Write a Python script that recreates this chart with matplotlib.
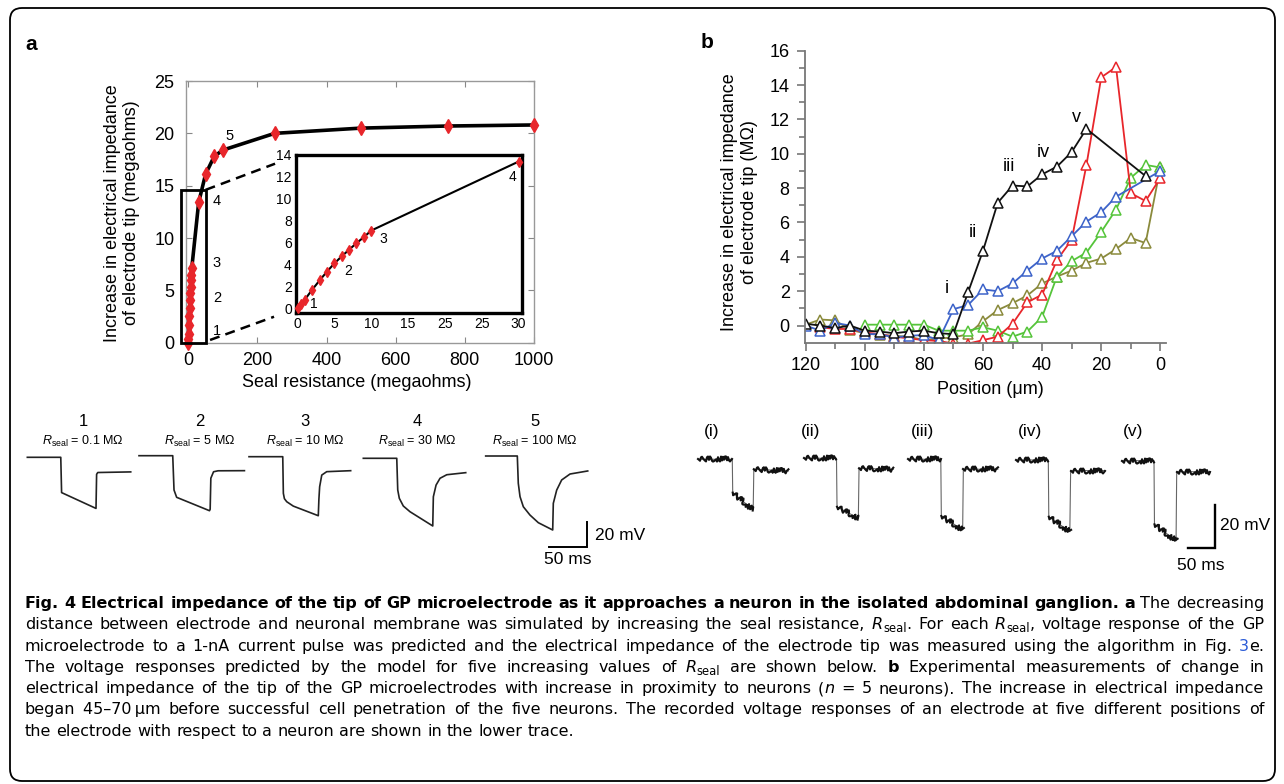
import matplotlib
matplotlib.use("Agg")
import matplotlib.pyplot as plt
import matplotlib.transforms as mtransforms
from matplotlib.patches import FancyBboxPatch, Rectangle
import numpy as np

plt.rcParams['font.family'] = ['Liberation Sans', 'DejaVu Sans']
plt.rcParams['mathtext.fontset'] = 'custom'
plt.rcParams['mathtext.rm'] = 'Liberation Sans'
plt.rcParams['mathtext.it'] = 'Liberation Sans:italic'

nan = np.nan

# ---- panel a: model, impedance increase vs seal resistance (megaohms)
seal_res = [0.1, 0.5, 1, 2, 3, 4, 5, 6, 7, 8, 9, 10, 30, 50, 75, 100, 250, 500, 750, 1000]
imp_increase = [0.0, 0.35, 0.8, 1.7, 2.55, 3.35, 4.1, 4.75, 5.35, 5.95, 6.5, 7.1,
                13.4, 16.1, 17.8, 18.4, 20.0, 20.5, 20.7, 20.8]
inset_ticks = [0, 5, 10, 15, 20, 25, 30]
inset_ticklabels = ['0', '5', '10', '15', '25', '25', '30']  # as printed in the figure

# ---- panel b: measured impedance increase (MOhm) vs position (um), 5 neurons
position = [120, 115, 110, 105, 100, 95, 90, 85, 80, 75, 70, 65, 60,
            55, 50, 45, 40, 35, 30, 25, 20, 15, 10, 5, 0]
imp_olive = [0.05, 0.35, 0.3, -0.25, -0.45, -0.55, -0.6, -0.65, -0.85, -0.75, -0.7, -0.5, 0.25,
             0.9, 1.3, 1.75, 2.45, 2.85, 3.2, 3.65, 3.9, 4.45, 5.1, 4.8, 9.2]
imp_green = [nan, nan, nan, nan, 0.05, 0.05, 0.05, 0.05, 0.05, -0.3, -0.3, -0.3, -0.1,
             -0.3, -0.65, -0.35, 0.5, 2.85, 3.75, 4.25, 5.45, 6.75, 8.6, 9.35, 9.2]
imp_red = [nan, -0.1, -0.2, -0.2, -0.4, -0.5, -0.65, -0.75, -0.85, -0.9, -1.05, -1.05, -0.85,
           -0.65, 0.1, 1.35, 1.8, 3.8, 5.0, 9.35, 14.45, 15.05, 7.7, 7.25, 8.6]
imp_blue = [0.0, -0.3, 0.15, 0.0, -0.5, -0.5, -0.7, -0.6, -0.55, -0.85, 0.95, 1.2, 2.1,
            2.0, 2.45, 3.2, 3.9, 4.35, 5.2, 6.05, 6.6, 7.5, nan, nan, 9.0]
imp_black = [0.1, 0.0, -0.15, 0.0, -0.3, -0.35, -0.45, -0.35, -0.3, -0.45, -0.5, 1.96, 4.35,
             7.15, 8.15, 8.1, 8.8, 9.25, 10.1, 11.45, nan, nan, nan, 8.7, nan]
roman_labels = ['i', 'ii', 'iii', 'iv', 'v']
roman_pos = [72.3, 63.3, 51.1, 39.6, 28.3]
roman_val = [2.15, 5.4, 9.24, 10.06, 12.1]

# ---- panel a lower: predicted voltage responses (ms, mV from baseline)
model_labels = ['1', '2', '3', '4', '5']
model_rseal = ['0.1', '5', '10', '30', '100']
model_t = [
    [0, 44.4, 45.5, 91.2, 92.0, 93.5, 137.3],
    [0, 44.8, 46.5, 50.0, 93.6, 94.5, 95.4, 99.0, 105.0, 140.0],
    [0, 44.8, 45.6, 47.0, 50.1, 58.8, 92.0, 92.8, 93.8, 96.6, 103.2, 135.0],
    [0, 44.4, 45.7, 47.8, 53.1, 62.0, 92.2, 93.0, 96.6, 101.9, 110.8, 136.0],
    [0, 42.0, 43.3, 45.6, 50.0, 58.8, 69.9, 89.0, 89.8, 94.3, 100.9, 112.0, 135.5],
]
model_v = [
    [0, 0, -29.0, -42.0, -14.0, -12.5, -12.0],
    [0, 0, -28.2, -34.2, -45.2, -44.0, -18.5, -13.2, -12.4, -12.3],
    [0, 0, -30.1, -34.5, -37.0, -40.6, -48.5, -35.0, -24.7, -15.1, -12.3, -11.5],
    [0, 0, -26.0, -32.9, -39.2, -43.9, -55.6, -31.6, -22.0, -16.4, -13.5, -11.8],
    [0, 0, -22.4, -33.4, -41.7, -48.5, -54.8, -60.8, -38.9, -28.0, -19.7, -14.8, -12.3],
]

# ---- panel b lower: recorded voltage responses (ms, mV from baseline)
rec_labels = ['(i)', '(ii)', '(iii)', '(iv)', '(v)']
rec_t = [
    [0, 63.8, 64.6, 103.0, 104.2, 169.0],
    [0, 61.0, 62.0, 102.0, 103.3, 167.5],
    [0, 61.0, 62.0, 102.0, 103.3, 168.0],
    [0, 60.6, 61.5, 101.0, 102.5, 167.0],
    [0, 60.6, 61.5, 102.0, 103.2, 166.0],
]
rec_v = [
    [0, 0, -15.4, -23.4, -4.6, -5.4],
    [0, 0, -22.4, -27.7, -4.6, -5.1],
    [0, 0, -26.2, -32.6, -4.6, -4.6],
    [0, 0, -26.2, -33.1, -4.9, -4.9],
    [0, 0, -29.4, -37.0, -5.1, -5.1],
]

caption_lines = [
    [("b", "Fig. 4 Electrical impedance of the tip of GP microelectrode as it approaches a neuron "
           "in the isolated abdominal ganglion. a"), ("n", " The decreasing")],
    [("n", "distance between electrode and neuronal membrane was simulated by increasing the seal resistance, "),
     ("i", "R"), ("s", "seal"), ("n", ". For each "), ("i", "R"), ("s", "seal"),
     ("n", ", voltage response of the GP")],
    [("n", "microelectrode to a 1-nA current pulse was predicted and the electrical impedance of the "
           "electrode tip was measured using the algorithm in Fig. "), ("u", "3"), ("n", "e.")],
    [("n", "The voltage responses predicted by the model for five increasing values of "),
     ("i", "R"), ("s", "seal"), ("n", " are shown below. "), ("b", "b"),
     ("n", " Experimental measurements of change in")],
    [("n", "electrical impedance of the tip of the GP microelectrodes with increase in proximity to neurons ("),
     ("i", "n"), ("n", " = 5 neurons). The increase in electrical impedance")],
    [("n", "began 45\u201370\u2009\u03bcm before successful cell penetration of the five neurons. "
           "The recorded voltage responses of an electrode at five different positions of")],
    [("n", "the electrode with respect to a neuron are shown in the lower trace.")],
]

# ------------------------------------------------------------------
W, H = 1284, 784
fig = plt.figure(figsize=(W / 100, H / 100), dpi=100)


def box(x0, y0, x1, y1):
    return [x0 / W, 1 - y1 / H, (x1 - x0) / W, (y1 - y0) / H]


def fx(px):
    return px / W


def fy(py):
    return 1 - py / H


RED = '#e8262b'

# outer frame
fig.add_artist(FancyBboxPatch((10, 3), 1265, 773, boxstyle='round,pad=0,rounding_size=12',
                              transform=mtransforms.IdentityTransform(),
                              fill=False, ec='black', lw=1.3))

fig.text(fx(25), fy(45), 'a', fontsize=15, weight='bold', va='center')
fig.text(fx(701), fy(43), 'b', fontsize=15, weight='bold', va='center')

# ---------------- panel a main axes
ax = fig.add_axes(box(185.7, 81, 534, 342.7))
ax.plot(seal_res, imp_increase, color='black', lw=2.6, zorder=2, clip_on=False)
ax.plot(seal_res, imp_increase, ls='none', marker='d', ms=6.8, color=RED, zorder=3, clip_on=False)
ax.set_xlim(-7.5, 1000)
ax.set_ylim(0, 25)
ax.set_xticks([0, 200, 400, 600, 800, 1000])
ax.set_yticks([0, 5, 10, 15, 20, 25])
ax.tick_params(direction='in', top=True, right=True, length=4, color='#888888',
               labelsize=13, labelcolor='black')
ax.tick_params(axis='y', pad=8)
ax.tick_params(axis='x', pad=7)
for s in ax.spines.values():
    s.set_color('#999999')
    s.set_linewidth(1.0)
fig.text(fx(122), fy(213), 'Increase in electrical impedance\nof electrode tip (megaohms)',
         rotation=90, ha='center', va='center', fontsize=13, linespacing=1.2)
fig.text(fx(356.7), fy(383), 'Seal resistance (megaohms)', ha='center', va='center', fontsize=13)

ax.add_patch(Rectangle((-20, 0), 70, 14.6, fill=False, ec='black', lw=2, clip_on=False, zorder=4))
ax.plot([50, 251], [14.6, 17.1], color='black', lw=1.8, ls=(0, (4, 2.5)), clip_on=False)
ax.plot([63, 248], [0.26, 2.48], color='black', lw=1.8, ls=(0, (4, 2.5)), clip_on=False)
for lab, xx, yy in [('5', 120.6, 19.75), ('4', 83, 13.56), ('3', 83, 7.6), ('2', 83, 4.3), ('1', 83, 1.1)]:
    ax.text(xx, yy, lab, fontsize=10.5, ha='center', va='center')

# inset
axi = fig.add_axes(box(296, 155, 522.3, 312.7))
sr = np.array(seal_res)
ii = np.array(imp_increase)
keep = sr <= 30
axi.plot(sr[keep], ii[keep], color='black', lw=1.5, zorder=2)
axi.plot(sr[keep], ii[keep], ls='none', marker='d', ms=5, color=RED, zorder=3, clip_on=False)
axi.set_xlim(-0.2, 30.5)
axi.set_ylim(-0.4, 14)
axi.set_xticks(inset_ticks)
axi.set_xticklabels(inset_ticklabels)
axi.set_yticks(range(0, 15, 2))
axi.tick_params(length=0, labelsize=10, pad=3)
for s in axi.spines.values():
    s.set_color('black')
    s.set_linewidth(2.4)
for lab, xx, yy in [('1', 2.17, 0.39), ('2', 6.9, 3.45), ('3', 11.7, 6.33), ('4', 29.2, 12.02)]:
    axi.text(xx, yy, lab, fontsize=10, ha='center', va='center')

# ---------------- panel b axes
axb = fig.add_axes(box(805, 50.7, 1166, 342.7))
series = [(imp_olive, '#8a8a3c'), (imp_green, '#55c43a'), (imp_red, '#e8262b'),
          (imp_blue, '#3d63c9'), (imp_black, '#111111')]
for vals, col in series:
    v = np.array(vals, dtype=float)
    p = np.array(position, dtype=float)
    ok = ~np.isnan(v)
    axb.plot(p[ok], v[ok], color=col, lw=1.3, marker='^', ms=7.5, mfc='white', mec=col, mew=1.1)
axb.set_xlim(120.2, -1.9)
axb.set_ylim(-1, 16)
axb.set_xticks([120, 100, 80, 60, 40, 20, 0])
axb.set_xticks([110, 90, 70, 50, 30, 10], minor=True)
axb.set_yticks(range(0, 17, 2))
axb.set_yticks(range(1, 16, 2), minor=True)
axb.spines['top'].set_visible(False)
axb.spines['right'].set_visible(False)
for s in ['left', 'bottom']:
    axb.spines[s].set_color('#777777')
    axb.spines[s].set_linewidth(1.3)
axb.tick_params(which='major', direction='out', length=6, width=1.2, color='#777777', labelsize=13)
axb.tick_params(which='minor', direction='out', length=4, width=1.2, color='#777777')
axb.tick_params(axis='y', pad=5)
axb.tick_params(axis='x', pad=4)
for lab, xx, yy in zip(roman_labels, roman_pos, roman_val):
    axb.text(xx, yy, lab, fontsize=13, ha='center', va='center')
fig.text(fx(739.5), fy(202.5), 'Increase in electrical impedance\nof electrode tip (M\u03a9)',
         rotation=90, ha='center', va='center', fontsize=13, linespacing=1.2)
fig.text(fx(990), fy(390), 'Position (\u03bcm)', ha='center', va='center', fontsize=13)

# ---------------- lower traces, panel a
pxms_a, pxmv_a = 0.753, 1.217
axt = fig.add_axes(box(0, 400, 660, 580))
axt.axis('off')
axt.set_xlim(0, 660 / pxms_a)
axt.set_ylim(-(580 - 457) / pxmv_a, (457 - 400) / pxmv_a)
start_a = [36.3, 184.6, 330.7, 482.5, 645.0]
shift_a = [-0.25, 1.07, 0.25, -1.07, 0.82]
lab_x_a = [83, 200, 305, 417, 535]
for k in range(5):
    axt.plot(np.array(model_t[k]) + start_a[k], np.array(model_v[k]) + shift_a[k],
             color='#222222', lw=1.2, solid_joinstyle='round')
    fig.text(fx(lab_x_a[k]), fy(421.7), model_labels[k], ha='center', va='center', fontsize=12)
    fig.text(fx(lab_x_a[k]), fy(441.5), r'$R_{\mathrm{seal}}$ = ' + model_rseal[k] + ' M\u03a9',
             ha='center', va='center', fontsize=9)
axt.plot([729.5, 779.5, 779.5], [-73.7, -73.7, -53.7], color='black', lw=1.4, solid_joinstyle='miter')
fig.text(fx(595), fy(535), '20 mV', ha='left', va='center', fontsize=12.5)
fig.text(fx(568), fy(560), '50 ms', ha='center', va='center', fontsize=12.5)

# ---------------- lower traces, panel b
pxms_b, pxmv_b = 0.533, 2.165
axr = fig.add_axes(box(680, 400, 1284, 580))
axr.axis('off')
axr.set_xlim(0, 604 / pxms_b)
axr.set_ylim(-(580 - 459.5) / pxmv_b, (459.5 - 400) / pxmv_b)
start_b = [34.3, 232.6, 428.3, 630.4, 828.7]
shift_b = [0.1, 0.55, 0.1, -0.23, -0.55]
lab_x_b = [711.7, 810.7, 922.3, 1030, 1133.3]
for k in range(5):
    t = np.array(rec_t[k]) + start_b[k]
    v = np.array(rec_v[k]) + shift_b[k]
    axr.plot(t, v, color='#666666', lw=0.8)
    for a, b in [(0, 2), (2, 4), (4, 6)]:
        ln, = axr.plot(t[a:b], v[a:b], color='#111111', lw=1.5)
        ln.set_sketch_params(scale=2.6, length=5, randomness=4)
    fig.text(fx(lab_x_b[k]), fy(431.7), rec_labels[k], ha='center', va='center', fontsize=12.5)
axr.plot([953.8, 1003.8, 1003.8], [-41, -41, -21], color='black', lw=1.7, solid_joinstyle='miter')
fig.text(fx(1220), fy(525), '20 mV', ha='left', va='center', fontsize=12.5)
fig.text(fx(1201), fy(565), '50 ms', ha='center', va='center', fontsize=12.5)

# ---------------- caption (justified)
CAP = ['DejaVu Sans']


def make_styles(size):
    return {
        'n': dict(family=CAP, size=size),
        'b': dict(family=CAP, size=size, weight='bold'),
        'i': dict(family=CAP, size=size, style='italic'),
        's': dict(family=CAP, size=size * 0.72),
        'u': dict(family=CAP, size=size, color='#2a5bd7'),
    }


def words_of(runs):
    words, glue = [], False
    for style, txt in runs:
        for k, part in enumerate(txt.split(' ')):
            if k > 0:
                glue = False
            if part:
                if glue and words:
                    words[-1].append((style, part))
                else:
                    words.append([(style, part)])
                glue = True
    return words


rend = fig.canvas.get_renderer()


def text_w(txt, st):
    t = fig.text(0, 0, txt, **st)
    w = t.get_window_extent(rend).width
    t.remove()
    return w


left, right = 25, 1264
top, pitch = 608, 21.3

# fit the font size so the widest justified line has about normal word spacing
base = 10.0
st = make_styles(base)
space_w = text_w('a a', st['n']) - text_w('aa', st['n'])
natural = []
for runs in caption_lines[:-1]:
    ws = words_of(runs)
    tot = sum(text_w(txt, st[s]) for w in ws for s, txt in w)
    natural.append(tot + space_w * (len(ws) - 1))
base = base * (right - left) / max(natural) * 0.995
st = make_styles(base)
space_w = text_w('a a', st['n']) - text_w('aa', st['n'])

for li, runs in enumerate(caption_lines):
    y_base = round(top + li * pitch)
    words = words_of(runs)
    placed, widths = [], []
    for word in words:
        off = 0.0
        items = []
        for style, txt in word:
            dy = 3.0 if style == 's' else 0.0
            t = fig.text(0, fy(y_base + dy), txt, va='baseline', ha='left', **st[style])
            items.append((t, off))
            off += t.get_window_extent(rend).width
        placed.append(items)
        widths.append(off)
    if li < len(caption_lines) - 1 and len(words) > 1:
        gap = (right - left - sum(widths)) / (len(words) - 1)
    else:
        gap = space_w
    x = left
    for items, w in zip(placed, widths):
        for t, off in items:
            t.set_x(fx(x + off))
        x += w + gap

fig.savefig('out.png', dpi=100)
